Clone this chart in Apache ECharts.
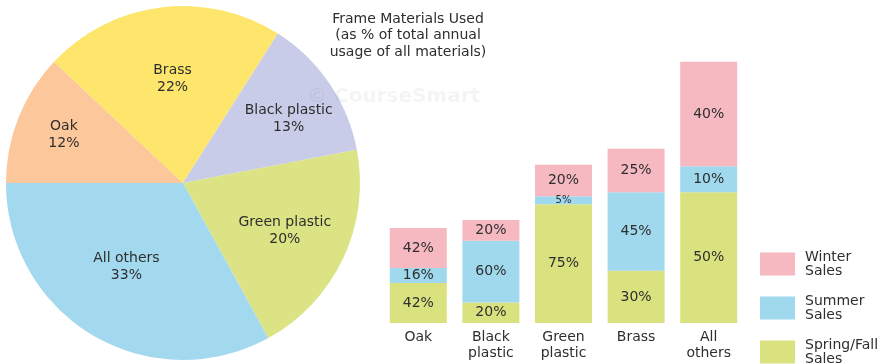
<!DOCTYPE html>
<html>
<head>
<meta charset="utf-8">
<title>Frame Materials Used</title>
<script src="https://cdn.jsdelivr.net/npm/echarts@6/dist/echarts.min.js"></script>
<style>
  html, body { margin: 0; padding: 0; background: #fff; }
  #chart { width: 892px; height: 364px; }
</style>
</head>
<body>
<div id="chart"></div>
<script>
// pie: share of all frame materials (%)
const materials = ["Oak", "Brass", "Black plastic", "Green plastic", "All others"];
const materialShare = [12, 22, 13, 20, 33];

// bars: seasonal split of each material (%)
const barCategories = ["Oak", "Black\nplastic", "Green\nplastic", "Brass", "All\nothers"];
const barShare = [12, 13, 20, 22, 33];
const winterPct = [42, 20, 20, 25, 40];
const summerPct = [16, 60, 5, 45, 10];
const springFallPct = [42, 20, 75, 30, 50];

const FONT = "DejaVu Sans";
const TEXT = "#2e2e2e";

const pieColors = {
  "Oak": "#fcc89b",
  "Brass": "#fde66b",
  "Black plastic": "#c8cce9",
  "Green plastic": "#dce384",
  "All others": "#a3d9ef"
};
// small nudges so the labels sit where the original put them
const pieLabelNudge = {
  "Oak": [-34, -14],
  "Brass": [1, -13],
  "Black plastic": [30, -13],
  "Green plastic": [19, 9],
  "All others": [-10, 5]
};

const chart = echarts.init(document.getElementById("chart"));

function seasonSeries(name, pct, color) {
  return {
    name: name,
    type: "bar",
    stack: "usage",
    barWidth: 57,
    itemStyle: { color: color },
    emphasis: { disabled: true },
    label: {
      show: true,
      position: "inside",
      color: TEXT,
      fontFamily: FONT,
      fontSize: 14,
      formatter: (p) => pct[p.dataIndex] + "%"
    },
    data: barShare.map((s, i) => {
      const item = { value: (s * pct[i]) / 100 };
      if (pct[i] < 8) item.label = { fontSize: 10 };
      return item;
    })
  };
}

const option = {
  backgroundColor: "#fff",
  animation: false,
  title: [
    {
      text: "Frame Materials Used\n(as % of total annual\nusage of all materials)",
      left: 403,
      top: 6,
      textAlign: "center",
      textStyle: {
        color: TEXT,
        fontFamily: FONT,
        fontSize: 14,
        fontWeight: "normal",
        lineHeight: 16.5
      }
    },
    {
      text: "© CourseSmart",
      left: 302,
      top: 82,
      textStyle: {
        color: "rgba(0,0,0,0.045)",
        fontFamily: FONT,
        fontSize: 20,
        fontWeight: "bold"
      }
    }
  ],
  legend: {
    orient: "vertical",
    left: 760,
    top: 250,
    height: 160,
    padding: 0,
    itemWidth: 35,
    itemHeight: 23,
    itemGap: 16,
    icon: "rect",
    selectedMode: false,
    data: ["Winter Sales", "Summer Sales", "Spring/Fall Sales"],
    formatter: (name) => name.replace(" ", "\n"),
    textStyle: {
      color: TEXT,
      fontFamily: FONT,
      fontSize: 14,
      lineHeight: 14,
      padding: [0, 0, 0, 5]
    }
  },
  grid: {
    left: 382,
    right: 147,
    top: 61.7,
    bottom: 41,
    containLabel: false
  },
  xAxis: {
    type: "category",
    data: barCategories,
    axisLine: { show: false },
    axisTick: { show: false },
    splitLine: { show: false },
    axisLabel: {
      color: TEXT,
      fontFamily: FONT,
      fontSize: 14,
      lineHeight: 16,
      margin: 6,
      interval: 0
    }
  },
  yAxis: {
    type: "value",
    min: 0,
    max: 33,
    show: false,
    splitLine: { show: false }
  },
  series: [
    {
      name: "Materials",
      type: "pie",
      center: [183, 183],
      radius: 177,
      startAngle: 180,
      clockwise: true,
      avoidLabelOverlap: false,
      emphasis: { disabled: true },
      itemStyle: { borderWidth: 0 },
      labelLine: { show: false },
      label: {
        show: true,
        position: "inside",
        color: TEXT,
        fontFamily: FONT,
        fontSize: 14,
        lineHeight: 17,
        formatter: "{b}\n{c}%"
      },
      data: materials.map((m, i) => ({
        name: m,
        value: materialShare[i],
        itemStyle: { color: pieColors[m] },
        label: { offset: pieLabelNudge[m] }
      }))
    },
    seasonSeries("Spring/Fall Sales", springFallPct, "#d9e27e"),
    seasonSeries("Summer Sales", summerPct, "#a0d9ee"),
    seasonSeries("Winter Sales", winterPct, "#f6b9c1")
  ]
};

chart.setOption(option);
</script>
</body>
</html>
